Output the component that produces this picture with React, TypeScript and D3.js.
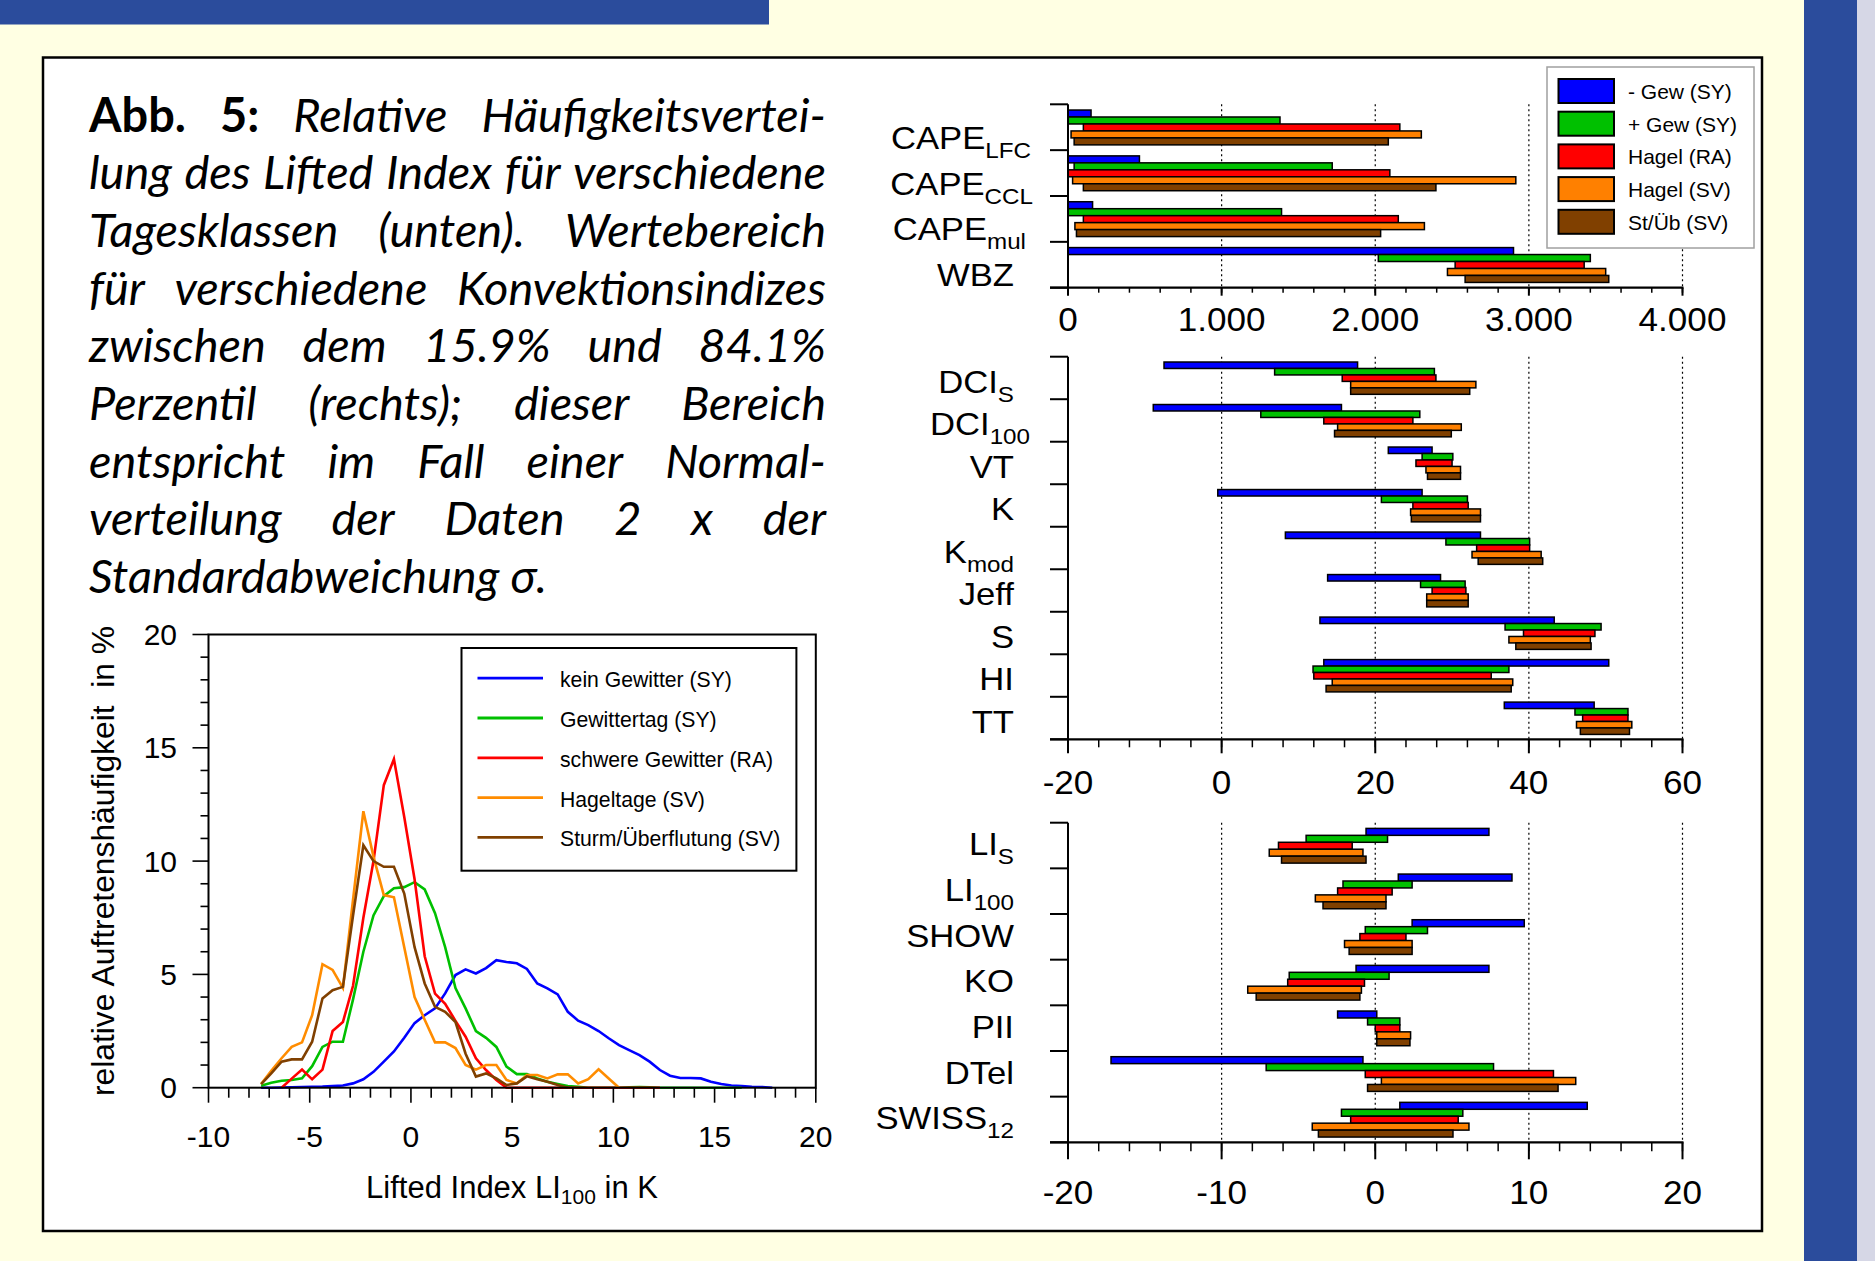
import React, { useMemo } from 'react';
import * as d3 from 'd3';

const FONT = "'Liberation Sans', Arial, Helvetica, sans-serif";
const CAP_FONT = "Lato, 'Open Sans', sans-serif";

// ---------------- caption ----------------
const CAPTION_LINES = [
  'Abb. 5: Relative Häufigkeitsvertei-',
  'lung des Lifted Index für verschiedene',
  'Tagesklassen (unten). Wertebereich',
  'für verschiedene Konvektionsindizes',
  'zwischen dem 15.9% und 84.1%',
  'Perzentil (rechts); dieser Bereich',
  'entspricht im Fall einer Normal-',
  'verteilung der Daten 2 x der',
  'Standardabweichung σ.',
];
const CAPTION_BOLD_WORDS = 2;

// ---------------- line chart data ----------------
const LI_X = [-7.40, -6.90, -6.39, -5.89, -5.38, -4.88, -4.37, -3.87, -3.36, -2.86, -2.35, -1.85, -1.34, -0.84, -0.33, 0.18, 0.68, 1.19, 1.69, 2.20, 2.70, 3.21, 3.71, 4.22, 4.72, 5.23, 5.73, 6.24, 6.74, 7.25, 7.75, 8.26, 8.76, 9.27, 9.77, 10.28, 10.78, 11.29, 11.79, 12.30, 12.80, 13.31, 13.81, 14.32, 14.82, 15.33, 15.83, 16.34, 16.84, 17.35, 17.85];
const LI_KEIN = [0, 0, 0.01, 0.02, 0.03, 0.04, 0.05, 0.07, 0.1, 0.19, 0.37, 0.7, 1.15, 1.6, 2.2, 2.85, 3.2, 3.5, 4.16, 4.97, 5.22, 5.04, 5.28, 5.63, 5.55, 5.49, 5.24, 4.6, 4.38, 4.12, 3.35, 2.96, 2.76, 2.5, 2.18, 1.88, 1.66, 1.44, 1.15, 0.78, 0.53, 0.43, 0.43, 0.41, 0.26, 0.16, 0.1, 0.07, 0.04, 0.03, 0];
const LI_GEW = [0.09, 0.22, 0.31, 0.34, 0.41, 0.95, 1.8, 2.03, 2.03, 3.9, 6.0, 7.6, 8.45, 8.8, 8.85, 9.07, 8.75, 7.7, 6.2, 4.4, 3.5, 2.5, 2.2, 1.8, 0.93, 0.6, 0.6, 0.41, 0.26, 0.16, 0.07, 0.04, 0, 0, 0, 0, 0.02, 0.03, 0.02, 0, 0, 0, 0, 0, 0, 0, 0, 0];
const LI_SCHWER = [null, null, 0, 0.4, 0.8, 0.37, 0.8, 2.5, 2.9, 4.5, 7.5, 10.0, 13.35, 14.5, 11.95, 9.2, 5.8, 4.15, 3.7, 2.95, 2.25, 1.3, 0.78, 0.34, 0, 0, 0, 0, 0, 0, 0, 0, 0, 0, 0, 0, 0, 0, 0, 0];
const LI_HAGEL = [0.16, 0.75, 1.3, 1.8, 2.0, 3.2, 5.45, 5.2, 4.4, 8.3, 12.2, 10.2, 8.5, 8.4, 6.2, 4.0, 3.0, 2.0, 2.0, 1.75, 1.0, 0.8, 1.0, 1.0, 0.34, 0.19, 0.56, 0.56, 0.41, 0.59, 0.59, 0.19, 0.38, 0.81, 0.41, 0];
const LI_STURM = [0.16, 0.63, 1.15, 1.25, 1.25, 2.03, 3.94, 4.3, 4.45, 7.6, 10.7, 10.0, 9.75, 9.75, 8.57, 6.2, 4.6, 3.57, 3.35, 2.9, 1.5, 0.49, 0.63, 0.41, 0.12, 0.19, 0.5, 0.37, 0.26, 0.12, 0];
const LINE_NAMES = ['kein Gewitter (SY)', 'Gewittertag (SY)', 'schwere Gewitter (RA)', 'Hageltage (SV)', 'Sturm/Überflutung (SV)'];
const LINE_COLORS = ['#0000ff', '#00c000', '#ff0000', '#ff8c00', '#804000'];
const LINE_X_TICKS = [-10, -5, 0, 5, 10, 15, 20];
const LINE_Y_TICKS = [0, 5, 10, 15, 20];

// ---------------- bar chart data ----------------
const BAR_NAMES = ['- Gew (SY)', '+ Gew (SY)', 'Hagel (RA)', 'Hagel (SV)', 'St/Üb (SV)'];
const BAR_COLORS = ['#0000ff', '#00c000', '#ff0000', '#ff8000', '#804000'];

const CAPE_CATS = ['CAPE_LFC', 'CAPE_CCL', 'CAPE_mul', 'WBZ'];
const CAPE_NOGEW = [[0, 150], [0, 465], [0, 160], [0, 2900]];
const CAPE_GEW = [[0, 1380], [40, 1720], [0, 1390], [2020, 3400]];
const CAPE_HAGEL_RA = [[100, 2160], [0, 2095], [100, 2150], [2520, 3360]];
const CAPE_HAGEL_SV = [[20, 2300], [30, 2915], [45, 2320], [2470, 3500]];
const CAPE_STURM = [[40, 2085], [100, 2395], [55, 2035], [2585, 3520]];

const STAB_CATS = ['DCI_S', 'DCI_100', 'VT', 'K', 'K_mod', 'Jeff', 'S', 'HI', 'TT'];
const STAB_NOGEW = [[-7.5, 17.7], [-8.9, 15.6], [21.7, 27.4], [-0.5, 26.1], [8.3, 33.7], [13.8, 28.5], [12.8, 43.3], [13.3, 50.4], [36.8, 48.5]];
const STAB_GEW = [[6.9, 27.7], [5.1, 25.8], [26.1, 30.1], [20.8, 32.0], [29.2, 40.1], [25.9, 31.7], [36.9, 49.4], [11.9, 37.4], [46.0, 52.9]];
const STAB_HAGEL_RA = [[15.7, 27.9], [13.3, 24.9], [25.3, 30.0], [24.9, 32.1], [33.2, 40.1], [27.4, 31.8], [39.3, 48.6], [12.0, 35.1], [47.0, 52.9]];
const STAB_HAGEL_SV = [[16.8, 33.1], [15.1, 31.2], [26.6, 31.1], [24.6, 33.7], [32.6, 41.6], [26.7, 32.1], [37.4, 48.0], [14.4, 37.9], [46.2, 53.4]];
const STAB_STURM = [[16.8, 32.3], [14.7, 29.9], [26.8, 31.1], [24.7, 33.7], [33.4, 41.8], [26.7, 32.1], [38.3, 48.1], [13.6, 37.7], [46.7, 53.1]];

const LI_CATS = ['LI_S', 'LI_100', 'SHOW', 'KO', 'PII', 'DTel', 'SWISS_12'];
const LI_NOGEW = [[-0.6, 7.4], [1.5, 8.9], [2.4, 9.7], [-1.25, 7.4], [-2.45, 0.1], [-17.2, -0.8], [1.6, 13.8]];
const LI_GEWB = [[-4.5, 0.8], [-2.1, 2.4], [-0.65, 3.4], [-5.6, 0.9], [-0.5, 1.6], [-7.1, 7.7], [-2.2, 5.7]];
const LI_HAGEL_RA = [[-6.3, -1.5], [-2.45, 1.1], [-1.0, 2.0], [-5.7, -0.7], [0.0, 1.6], [-0.65, 11.6], [-1.6, 5.4]];
const LI_HAGEL_SV = [[-6.9, -0.8], [-3.9, 0.7], [-2.0, 2.4], [-8.3, -0.9], [0.1, 2.3], [0.4, 13.05], [-4.1, 6.1]];
const LI_STURMB = [[-6.1, -0.6], [-3.4, 0.7], [-1.7, 2.4], [-7.75, -1.0], [0.1, 2.26], [-0.5, 11.9], [-3.7, 5.06]];

// layout-only: extra right shift for long labels
const LABEL_DX: Record<string, number> = { CAPE_LFC: 17, CAPE_CCL: 19, CAPE_mul: 12, DCI_100: 16 };

const deFmt = d3.formatLocale({ decimal: ',', thousands: '.', grouping: [3], currency: ['', '€'] }).format(',');

const BX0 = 1068;
const BX1 = 1682.5;

function Caption() {
  const items = useMemo(() => {
    const ctx = document.createElement('canvas').getContext('2d')!;
    const meas = (t: string, f: string) => {
      ctx.font = f;
      return ctx.measureText(t).width;
    };
    const itF = (s: number) => `italic ${s}px ${CAP_FONT}`;
    const bdF = (s: number) => `bold ${s}px ${CAP_FONT}`;
    const base = 40;
    const wLast = meas(CAPTION_LINES[CAPTION_LINES.length - 1], itF(base));
    const fs = (base * 458) / wLast;
    const L = 89;
    const R = 826;
    const out: any[] = [];
    CAPTION_LINES.forEach((line, li) => {
      const words = line.split(' ');
      const y = 131.5 + li * 57.7;
      const isBold = (wi: number) => li === 0 && wi < CAPTION_BOLD_WORDS;
      const widths = words.map((w, wi) => meas(w, isBold(wi) ? bdF(fs) : itF(fs)));
      const last = li === CAPTION_LINES.length - 1;
      const total = d3.sum(widths);
      const gap = last ? meas(' ', itF(fs)) : (R - L - total) / (words.length - 1);
      let x = L;
      words.forEach((w, wi) => {
        out.push({ w, x, y, bold: isBold(wi), fs, key: `${li}-${wi}` });
        x += widths[wi] + gap;
      });
    });
    return out;
  }, []);
  return (
    <g>
      {items.map((it) => (
        <text
          key={it.key}
          x={it.x}
          y={it.y}
          fontFamily={CAP_FONT}
          fontSize={it.fs}
          fontStyle={it.bold ? 'normal' : 'italic'}
          fontWeight={it.bold ? 'bold' : 'normal'}
          fill="#000"
        >
          {it.w}
        </text>
      ))}
    </g>
  );
}

function CatLabel({ cat, x, y, size, sub }: { cat: string; x: number; y: number; size: number; sub: number }) {
  const [main, s] = cat.split('_');
  return (
    <g transform={`translate(${x},${y}) scale(1.1,1)`}>
      <text x={0} y={0} textAnchor="end" fontFamily={FONT} fontSize={size} fill="#000">
        {main}
        {s ? (
          <tspan fontSize={sub} dy={9}>
            {s}
          </tspan>
        ) : null}
      </text>
    </g>
  );
}

function BarPanel(props: {
  cats: string[];
  series: number[][][];
  domain: [number, number];
  top: number;
  bottom: number;
  major: number;
  minor: number;
  grid: number[];
  fmt: (v: number) => string;
  tickLabelY: number;
  majorLen: number;
  minorLen: number;
  labelOff: number;
}) {
  const { cats, series, domain, top, bottom, major, minor, grid, fmt, tickLabelY, majorLen, minorLen, labelOff } = props;
  const x = d3.scaleLinear().domain(domain).range([BX0, BX1]);
  const y = d3.scaleBand<string>().domain(cats).range([top, bottom]).padding(0);
  const bw = y.bandwidth();
  const barH = bw * 0.152;
  const off = bw * 0.125;
  const minorTicks = d3.range(domain[0], domain[1] + 1e-9, minor);
  const majorTicks = d3.range(domain[0], domain[1] + 1e-9, major);
  const bounds = [top, ...cats.map((c) => (y(c) as number) + bw)];
  return (
    <g>
      {grid.map((g) => (
        <line key={'g' + g} x1={x(g)} x2={x(g)} y1={top} y2={bottom} stroke="#000" strokeWidth={1.2} strokeDasharray="2,3" />
      ))}
      {cats.map((c, ci) =>
        series.map((s, si) => {
          const [lo, hi] = s[ci];
          return (
            <rect
              key={c + si}
              x={x(lo)}
              y={(y(c) as number) + off + si * barH}
              width={x(hi) - x(lo)}
              height={barH}
              fill={BAR_COLORS[si]}
              stroke="#000"
              strokeWidth={1.5}
            />
          );
        })
      )}
      <line x1={BX0} x2={BX0} y1={top} y2={bottom} stroke="#000" strokeWidth={2} />
      {bounds.map((b, i) => (
        <line key={'b' + i} x1={BX0 - 18} x2={BX0} y1={b} y2={b} stroke="#000" strokeWidth={2} />
      ))}
      <line x1={BX0 - 18} x2={BX1 + 1} y1={bottom} y2={bottom} stroke="#000" strokeWidth={2.2} />
      {minorTicks.map((t) => (
        <line key={'m' + t} x1={x(t)} x2={x(t)} y1={bottom} y2={bottom + minorLen} stroke="#000" strokeWidth={1.5} />
      ))}
      {majorTicks.map((t) => (
        <line key={'M' + t} x1={x(t)} x2={x(t)} y1={bottom} y2={bottom + majorLen} stroke="#000" strokeWidth={2} />
      ))}
      {majorTicks.map((t) => (
        <g key={'l' + t} transform={`translate(${x(t)},${tickLabelY}) scale(1.08,1)`}>
          <text x={0} y={0} textAnchor="middle" fontFamily={FONT} fontSize={32.5} fill="#000">
            {fmt(t)}
          </text>
        </g>
      ))}
      {cats.map((c) => (
        <CatLabel key={'c' + c} cat={c} x={1014 + (LABEL_DX[c] || 0)} y={(y(c) as number) + bw - labelOff} size={31.5} sub={22} />
      ))}
    </g>
  );
}

function BarLegend() {
  const x0 = 1547;
  const y0 = 67;
  return (
    <g>
      <rect x={x0} y={y0} width={207} height={181} fill="#fff" stroke="#a0a0a0" strokeWidth={1.5} />
      {BAR_NAMES.map((n, i) => {
        const yy = 79 + i * 32.7;
        return (
          <g key={n}>
            <rect x={1558.5} y={yy} width={55.5} height={24} fill={BAR_COLORS[i]} stroke="#000" strokeWidth={2} />
            <text x={1628} y={yy + 20} fontFamily={FONT} fontSize={21} fill="#000">
              {n}
            </text>
          </g>
        );
      })}
    </g>
  );
}

function LineChart() {
  const x = d3.scaleLinear().domain([-10, 20]).range([208.5, 815.8]);
  const y = d3.scaleLinear().domain([0, 20]).range([1087.7, 634.5]);
  const series = [LI_KEIN, LI_GEW, LI_SCHWER, LI_HAGEL, LI_STURM];
  const line = d3
    .line<[number, number | null]>()
    .defined((d) => d[1] != null)
    .x((d) => x(d[0]))
    .y((d) => y(d[1] as number));
  const xMinor = d3.range(-10, 20.001, 1);
  const yMinor = d3.range(0, 20.001, 1);
  return (
    <g>
      {series.map((s, i) => (
        <path
          key={i}
          d={line(s.map((v, k) => [LI_X[k], v] as [number, number | null])) || ''}
          fill="none"
          stroke={LINE_COLORS[i]}
          strokeWidth={2.6}
          strokeLinejoin="miter"
        />
      ))}
      <rect x={208.5} y={634.5} width={815.8 - 208.5} height={1087.7 - 634.5} fill="none" stroke="#000" strokeWidth={2} />
      {yMinor.map((t) => (
        <line key={'ym' + t} x1={208.5 - (t % 5 === 0 ? 16 : 8)} x2={208.5} y1={y(t)} y2={y(t)} stroke="#000" strokeWidth={1.6} />
      ))}
      {xMinor.map((t) => (
        <line key={'xm' + t} x1={x(t)} x2={x(t)} y1={1087.7} y2={1087.7 + (t % 5 === 0 ? 15 : 10)} stroke="#000" strokeWidth={1.6} />
      ))}
      {LINE_Y_TICKS.map((t) => (
        <text key={'yl' + t} x={177} y={y(t) + 10.5} textAnchor="end" fontFamily={FONT} fontSize={30} fill="#000">
          {String(t)}
        </text>
      ))}
      {LINE_X_TICKS.map((t) => (
        <text key={'xl' + t} x={x(t)} y={1147} textAnchor="middle" fontFamily={FONT} fontSize={30} fill="#000">
          {String(t)}
        </text>
      ))}
      <text x={512} y={1198} textAnchor="middle" fontFamily={FONT} fontSize={31} fill="#000">
        Lifted Index LI
        <tspan fontSize={21} dy={6}>
          100
        </tspan>
        <tspan dy={-6}> in K</tspan>
      </text>
      <text
        transform="translate(114,861) rotate(-90)"
        x={0}
        y={0}
        textAnchor="middle"
        fontFamily={FONT}
        fontSize={31.8}
        fill="#000"
        style={{ whiteSpace: 'pre' }}
      >
        {'relative Auftretenshäufigkeit  in %'}
      </text>
      <rect x={461.5} y={648} width={796.4 - 461.5} height={870.7 - 648} fill="#fff" stroke="#000" strokeWidth={2} />
      {LINE_NAMES.map((n, i) => {
        const yy = 678.2 + i * 39.8;
        return (
          <g key={n}>
            <line x1={477.5} x2={543} y1={yy} y2={yy} stroke={LINE_COLORS[i]} strokeWidth={2.8} />
            <text x={560} y={yy + 9} fontFamily={FONT} fontSize={21.2} fill="#000">
              {n}
            </text>
          </g>
        );
      })}
    </g>
  );
}

export default function App() {
  const plain = (v: number) => String(v);
  return (
    <svg
      width={1875}
      height={1261}
      viewBox="0 0 1875 1261"
      style={{ position: 'absolute', left: 0, top: 0, display: 'block' }}
    >
      <rect x={0} y={0} width={1875} height={1261} fill="#ffffe3" />
      <rect x={0} y={0} width={769} height={24.5} fill="#2b4c9c" />
      <rect x={1804} y={0} width={53} height={1261} fill="#2b4c9c" />
      <rect x={1857} y={0} width={18} height={1261} fill="#d6d7e6" />
      <rect x={43} y={57.5} width={1719} height={1173.5} fill="#fff" stroke="#000" strokeWidth={2.5} />
      <Caption />
      <LineChart />
      <BarPanel
        cats={CAPE_CATS}
        series={[CAPE_NOGEW, CAPE_GEW, CAPE_HAGEL_RA, CAPE_HAGEL_SV, CAPE_STURM]}
        domain={[0, 4000]}
        top={104.3}
        bottom={287.7}
        major={1000}
        minor={200}
        grid={[1000, 2000, 3000, 4000]}
        fmt={(v) => deFmt(v)}
        tickLabelY={331}
        majorLen={8}
        minorLen={5}
        labelOff={1.5}
      />
      <BarLegend />
      <BarPanel
        cats={STAB_CATS}
        series={[STAB_NOGEW, STAB_GEW, STAB_HAGEL_RA, STAB_HAGEL_SV, STAB_STURM]}
        domain={[-20, 60]}
        top={356.7}
        bottom={739.3}
        major={20}
        minor={4}
        grid={[0, 20, 40, 60]}
        fmt={plain}
        tickLabelY={794}
        majorLen={14}
        minorLen={8}
        labelOff={6.5}
      />
      <BarPanel
        cats={LI_CATS}
        series={[LI_NOGEW, LI_GEWB, LI_HAGEL_RA, LI_HAGEL_SV, LI_STURMB]}
        domain={[-20, 20]}
        top={822.7}
        bottom={1142.3}
        major={10}
        minor={2}
        grid={[-10, 0, 10, 20]}
        fmt={plain}
        tickLabelY={1204}
        majorLen={17}
        minorLen={9}
        labelOff={13}
      />
    </svg>
  );
}
